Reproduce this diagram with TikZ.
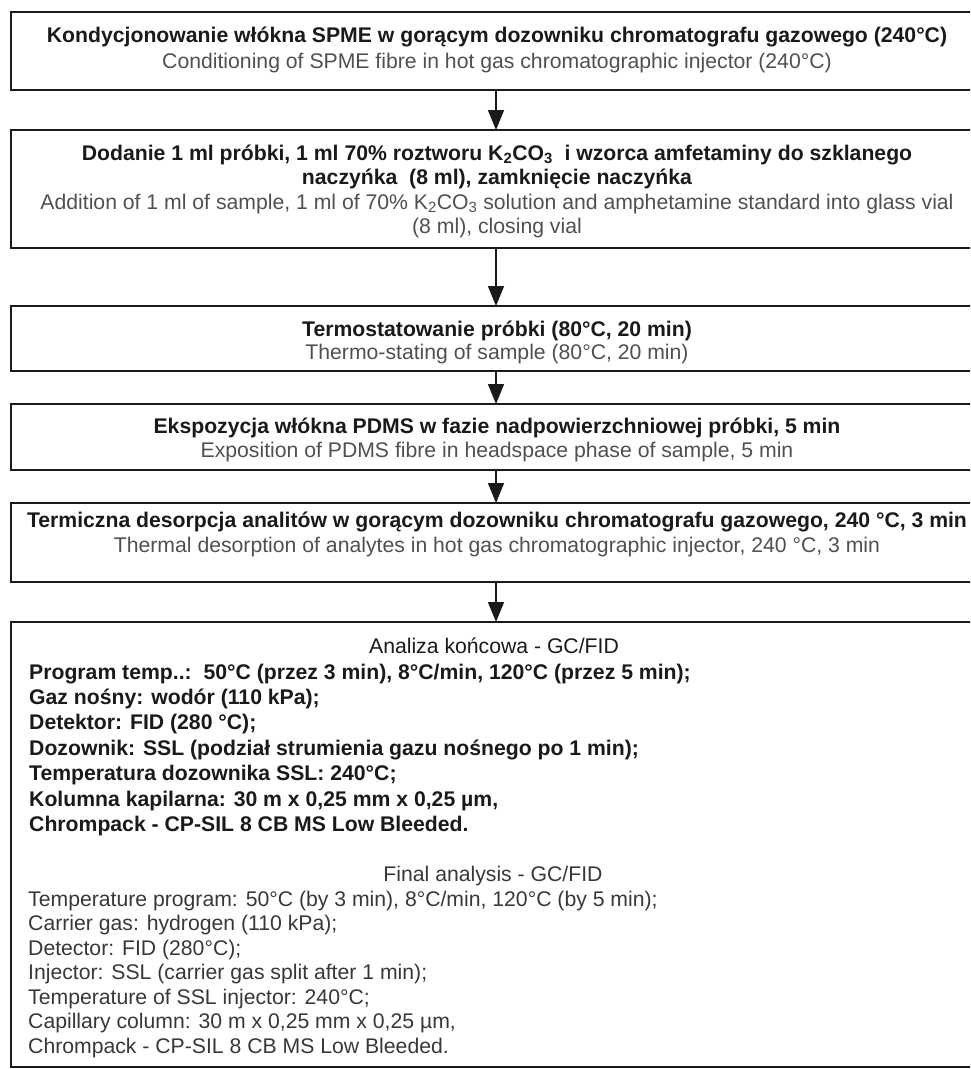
\documentclass[tikz,border=0pt]{standalone}
\usepackage{fontspec}
\setmainfont{Liberation Sans}
\usetikzlibrary{arrows.meta}
\definecolor{ink}{HTML}{1A1A1A}
\definecolor{eng}{HTML}{505050}
\definecolor{engb}{HTML}{383838}
\tikzset{
  box/.style={draw=ink, line width=1.6pt, minimum width=970pt, inner sep=0pt, outer sep=0pt},
  pl/.style={font=\fontsize{21.2}{25}\selectfont\bfseries, text=ink, inner sep=0pt, anchor=base},
  en/.style={font=\fontsize{21.2}{25}\selectfont, text=eng, inner sep=0pt, anchor=base},
  plL/.style={pl, anchor=base west},
  enL/.style={en, text=engb, anchor=base west},
  hd/.style={en, text=ink},
  arr/.style={line width=1.4pt, draw=ink, -{Triangle[width=16pt,length=20pt]}},
}
\begin{document}
\begin{tikzpicture}[x=1pt,y=-1pt]
\useasboundingbox (0,0) rectangle (970,1069);
\clip (0,0) rectangle (970,1069);
\fill[white] (0,0) rectangle (970,1069);

% boxes
\node[box, minimum height=78pt]  (b1) at (496,51) {};
\node[box, minimum height=118pt] (b2) at (496,189) {};
\node[box, minimum height=65pt]  (b3) at (496,338.5) {};
\node[box, minimum height=66pt]  (b4) at (496,437) {};
\node[box, minimum height=79pt]  (b5) at (496,542.5) {};
\node[box, minimum height=445pt] (b6) at (496,844.5) {};

% connectors
\coordinate (ax) at (496,0);
\draw[arr] (b1.south -| ax) -- (b2.north -| ax);
\draw[arr] (b2.south -| ax) -- (b3.north -| ax);
\draw[arr] (b3.south -| ax) -- (b4.north -| ax);
\draw[arr] (b4.south -| ax) -- (b5.north -| ax);
\draw[arr] (b5.south -| ax) -- (b6.north -| ax);

% box 1
\node[pl] (t1a) at (497,42) {Kondycjonowanie włókna SPME w gorącym dozowniku chromatografu gazowego (240°C)};
\node[en] (t1b) at (497,68) {Conditioning of SPME fibre in hot gas chromatographic injector (240°C)};

% box 2
\node[pl] (t2a) at (497,160) {Dodanie 1 ml próbki, 1 ml 70\% roztworu K\textsubscript{2}CO\textsubscript{3}\ \ i wzorca amfetaminy do szklanego};
\node[pl] (t2b) at (497,184) {naczyńka\ \ (8 ml), zamknięcie naczyńka};
\node[en] (t2c) at (497,209) {Addition of 1 ml of sample, 1 ml of 70\% K\textsubscript{2}CO\textsubscript{3} solution and amphetamine standard into glass vial};
\node[en] (t2d) at (497,233) {(8 ml), closing vial};

% box 3
\node[pl] (t3a) at (497,336) {Termostatowanie próbki (80°C, 20 min)};
\node[en] (t3b) at (497,359) {Thermo-stating of sample (80°C, 20 min)};

% box 4
\node[pl] (t4a) at (497,433) {Ekspozycja włókna PDMS w fazie nadpowierzchniowej próbki, 5 min};
\node[en] (t4b) at (497,457) {Exposition of PDMS fibre in headspace phase of sample, 5 min};

% box 5
\node[pl] (t5a) at (497,527) {Termiczna desorpcja analitów w gorącym dozowniku chromatografu gazowego, 240 °C, 3 min};
\node[en] (t5b) at (497,552) {Thermal desorption of analytes in hot gas chromatographic injector, 240 °C, 3 min};

% box 6 - Polish
\node[hd] (h6a) at (494,653) {Analiza końcowa - GC/FID};
\foreach \t [count=\i] in {
  {Program temp..:\ \ 50°C (przez 3 min), 8°C/min, 120°C (przez 5 min);},
  {Gaz nośny: wodór (110 kPa);},
  {Detektor: FID (280 °C);},
  {Dozownik: SSL (podział strumienia gazu nośnego po 1 min);},
  {Temperatura dozownika SSL: 240°C;},
  {Kolumna kapilarna: 30 m x 0,25 mm x 0,25 µm,},
  {Chrompack - CP-SIL 8 CB MS Low Bleeded.}}
  \node[plL] (p\i) at (29,{679+25.4*(\i-1)}) {\t};

% box 6 - English
\node[hd, text=engb] (h6b) at (493,881.5) {Final analysis - GC/FID};
\foreach \t [count=\i] in {
  {Temperature program: 50°C (by 3 min), 8°C/min, 120°C (by 5 min);},
  {Carrier gas: hydrogen (110 kPa);},
  {Detector: FID (280°C);},
  {Injector: SSL (carrier gas split after 1 min);},
  {Temperature of SSL injector: 240°C;},
  {Capillary column: 30 m x 0,25 mm x 0,25 µm,},
  {Chrompack - CP-SIL 8 CB MS Low Bleeded.}}
  \node[enL] (e\i) at (28,{906+24.5*(\i-1)}) {\t};
\end{tikzpicture}
\end{document}
